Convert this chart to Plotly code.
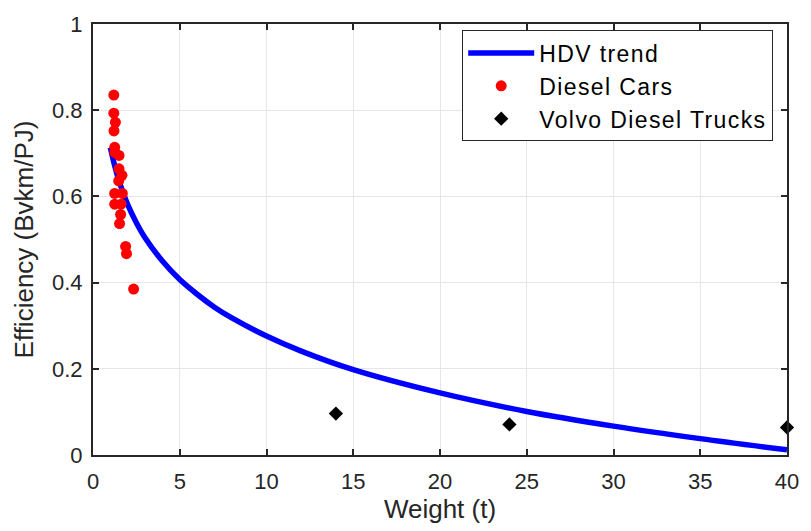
import plotly.graph_objects as go

# HDV trend: efficiency vs. vehicle weight
trend_weight = [1.0, 1.25, 1.5, 1.75, 2.0, 2.5, 3.0, 4.0, 5.0, 6.0, 7.0, 8.0, 10.0,
                12.0, 15.0, 20.0, 25.0, 30.0, 35.0, 40.0]
trend_eff = [0.713, 0.671, 0.636, 0.607, 0.581, 0.539, 0.504, 0.450, 0.407, 0.373,
             0.343, 0.318, 0.276, 0.241, 0.198, 0.144, 0.101, 0.067, 0.038, 0.012]

# Diesel cars
car_weight = [1.20, 1.20, 1.29, 1.21, 1.25, 1.26, 1.50, 1.50, 1.67, 1.48, 1.25, 1.69,
              1.25, 1.62, 1.59, 1.53, 1.88, 1.93, 2.34]
car_eff = [0.835, 0.793, 0.772, 0.752, 0.714, 0.702, 0.695, 0.664, 0.649, 0.636, 0.607,
           0.607, 0.582, 0.582, 0.558, 0.537, 0.484, 0.467, 0.385]

# Volvo diesel trucks
truck_weight = [14.0, 24.0, 40.0]
truck_eff = [0.096, 0.071, 0.064]

x_ticks = [0, 5, 10, 15, 20, 25, 30, 35, 40]
y_ticks = [0, 0.2, 0.4, 0.6, 0.8, 1]
y_tick_text = ["0", "0.2", "0.4", "0.6", "0.8", "1"]

FONT = "Liberation Sans, Arial, Helvetica, sans-serif"
INK = "#262626"


def legend_label(text):
    # slightly widened lettering for the legend entries
    return f'<span style="letter-spacing:1.4px">{text}</span>'


fig = go.Figure()
fig.add_trace(go.Scatter(
    x=trend_weight, y=trend_eff, mode="lines", name=legend_label("HDV trend"),
    line=dict(color="#0000ff", width=5.5, shape="spline"),
))
fig.add_trace(go.Scatter(
    x=car_weight, y=car_eff, mode="markers", name=legend_label("Diesel Cars"),
    marker=dict(color="#ff0000", size=11, symbol="circle"),
))
fig.add_trace(go.Scatter(
    x=truck_weight, y=truck_eff, mode="markers", name=legend_label("Volvo Diesel Trucks"),
    marker=dict(color="#000000", size=11, symbol="diamond"),
    cliponaxis=False,
))

axis_common = dict(
    showgrid=True, gridcolor="#e6e6e6", gridwidth=1,
    showline=True, linecolor=INK, linewidth=2, mirror="ticks",
    ticks="inside", ticklen=6, tickwidth=1.5, tickcolor=INK,
    zeroline=False,
    tickfont=dict(family=FONT, size=22, color=INK),
)

fig.update_xaxes(
    range=[0, 40], tickvals=x_ticks, ticklabelstandoff=6,
    title=dict(text="Weight (t)", font=dict(family=FONT, size=26, color=INK), standoff=5),
    **axis_common,
)
fig.update_yaxes(
    range=[0, 1], tickvals=y_ticks, ticktext=y_tick_text, ticklabelstandoff=4,
    title=dict(text="Efficiency (Bvkm/PJ)", font=dict(family=FONT, size=26, color=INK), standoff=11),
    **axis_common,
)

fig.update_layout(
    width=811, height=531,
    margin=dict(l=93, r=16, t=16, b=76),
    paper_bgcolor="white", plot_bgcolor="white",
    font=dict(family=FONT, color=INK),
    legend=dict(
        x=0.532, y=0.985, xanchor="left", yanchor="top",
        bgcolor="white", bordercolor=INK, borderwidth=1,
        font=dict(family=FONT, size=23, color="#000000"),
        itemwidth=66, tracegroupgap=0,
    ),
)

fig.write_html("out.html")
